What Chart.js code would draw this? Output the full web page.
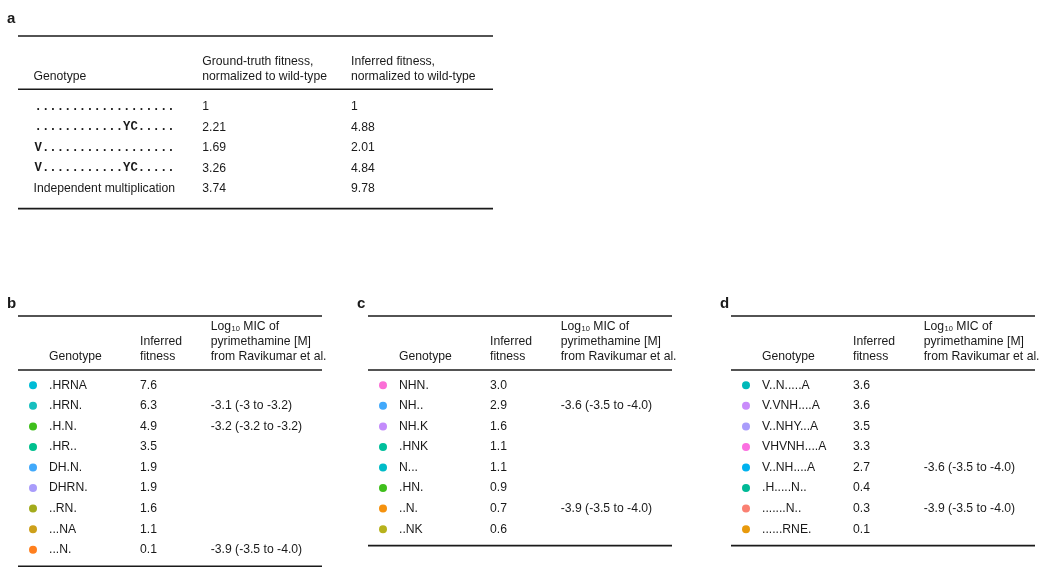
<!DOCTYPE html>
<html><head><meta charset="utf-8">
<script src="https://cdn.jsdelivr.net/npm/chart.js@4.4.1/dist/chart.umd.min.js"></script>
<style>
html,body{margin:0;padding:0;background:#fff;width:1050px;height:579px;overflow:hidden;}
canvas{position:absolute;}
</style></head><body>
<canvas id="pa" width="500" height="220" style="left:0;top:0"></canvas>
<canvas id="pb" width="340" height="299" style="left:0;top:280px"></canvas>
<canvas id="pc" width="340" height="299" style="left:350px;top:280px"></canvas>
<canvas id="pd" width="340" height="299" style="left:713px;top:280px"></canvas>
<script>
// ---------- data ----------
const aGenotypes = ['...................', '............YC.....', 'V..................', 'V...........YC.....', 'Independent multiplication'];
const aGroundTruth = [1, 2.21, 1.69, 3.26, 3.74];
const aInferred = [1, 4.88, 2.01, 4.84, 9.78];

const bGenotypes = ['.HRNA', '.HRN.', '.H.N.', '.HR..', 'DH.N.', 'DHRN.', '..RN.', '...NA', '...N.'];
const bFitness = [7.6, 6.3, 4.9, 3.5, 1.9, 1.9, 1.6, 1.1, 0.1];
const bMIC = ['', '-3.1 (-3 to -3.2)', '-3.2 (-3.2 to -3.2)', '', '', '', '', '', '-3.9 (-3.5 to -4.0)'];

const cGenotypes = ['NHN.', 'NH..', 'NH.K', '.HNK', 'N...', '.HN.', '..N.', '..NK'];
const cFitness = [3.0, 2.9, 1.6, 1.1, 1.1, 0.9, 0.7, 0.6];
const cMIC = ['', '-3.6 (-3.5 to -4.0)', '', '', '', '', '-3.9 (-3.5 to -4.0)', ''];

const dGenotypes = ['V..N.....A', 'V.VNH....A', 'V..NHY...A', 'VHVNH....A', 'V..NH....A', '.H.....N..', '.......N..', '......RNE.'];
const dFitness = [3.6, 3.6, 3.5, 3.3, 2.7, 0.4, 0.3, 0.1];
const dMIC = ['', '', '', '', '-3.6 (-3.5 to -4.0)', '', '-3.9 (-3.5 to -4.0)', ''];

// ---------- styles ----------
const bColors = ['#00bcd6', '#17bfbf', '#3fbf1c', '#00c08e', '#41a9fb', '#a99cfb', '#a3ab1c', '#cda01a', '#ff7f1e'];
const cColors = ['#fb6fd6', '#41a9fb', '#c38bfb', '#00bf9c', '#00bcc8', '#3fbf1c', '#f5920e', '#b7b21c'];
const dColors = ['#00b9b9', '#c98bfb', '#a99cfb', '#fb6fe0', '#00b2ee', '#00b996', '#fa8072', '#e89a0c'];

const FAM = "'Liberation Sans', Arial, sans-serif";
const FONT = '12.2px ' + FAM;
const MONO = "bold 12.3px 'Liberation Mono', 'Courier New', monospace";
const INK = '#1a1a1a';

function hline(ctx, x1, x2, y, w) {
  ctx.save(); ctx.strokeStyle = INK; ctx.lineWidth = w;
  ctx.beginPath(); ctx.moveTo(x1, y); ctx.lineTo(x2, y); ctx.stroke(); ctx.restore();
}
function drawLog10(ctx, x, y) {
  ctx.font = FONT; ctx.fillText('Log', x, y);
  const w = ctx.measureText('Log').width;
  ctx.font = '7.5px ' + FAM; ctx.fillText('10', x + w + 0.5, y + 2);
  const w2 = ctx.measureText('10').width;
  ctx.font = FONT; ctx.fillText(' MIC of', x + w + 0.5 + w2, y);
}

function baseOptions(padding, yMax) {
  return {
    responsive: false, animation: false, devicePixelRatio: 1,
    layout: { padding: padding },
    plugins: { legend: { display: false }, tooltip: { enabled: false } },
    events: [],
    scales: {
      x: { type: 'linear', display: false, min: 0, max: 1 },
      y: { type: 'linear', display: false, min: -0.5, max: yMax, reverse: true }
    }
  };
}

// ---------- panel a ----------
new Chart(document.getElementById('pa'), {
  type: 'scatter',
  data: { datasets: [{ data: [] }] },
  options: baseOptions({ left: 18, right: 7, top: 96.4, bottom: 21.1 }, aGenotypes.length - 0.5),
  plugins: [{
    id: 'tableA',
    afterDraw(chart) {
      const ctx = chart.ctx, ca = chart.chartArea, ys = chart.scales.y;
      const y0 = ys.getPixelForValue(0), yN = ys.getPixelForValue(aGenotypes.length - 1);
      const L = ca.left, R = ca.right;
      const gx = L + 15.5, c2 = L + 184.3, c3 = L + 333;
      ctx.save();
      ctx.fillStyle = INK; ctx.textBaseline = 'middle'; ctx.textAlign = 'left';
      ctx.font = 'bold 15px ' + FAM; ctx.fillText('a', 7, 19);
      hline(ctx, L, R, y0 - 70.7, 1.6);
      hline(ctx, L, R, y0 - 17.4, 1.6);
      hline(ctx, L, R, yN + 20, 1.6);
      ctx.font = FONT;
      ctx.fillText('Genotype', gx, y0 - 30);
      ctx.fillText('Ground-truth fitness,', c2, y0 - 44.7);
      ctx.fillText('normalized to wild-type', c2, y0 - 30);
      ctx.fillText('Inferred fitness,', c3, y0 - 44.7);
      ctx.fillText('normalized to wild-type', c3, y0 - 30);
      aGenotypes.forEach((g, i) => {
        const y = ys.getPixelForValue(i);
        if (/^[.A-Z]+$/.test(g) && g.length < 22) { ctx.font = MONO; ctx.fillText(g, gx + 1, y); }
        else { ctx.font = FONT; ctx.fillText(g, gx, y); }
        ctx.font = FONT;
        ctx.fillText(String(aGroundTruth[i]), c2, y);
        ctx.fillText(String(aInferred[i]), c3, y);
      });
      ctx.restore();
    }
  }]
});

// ---------- panels b, c, d ----------
function makePanel(id, letter, genotypes, fitness, mic, colors) {
  new Chart(document.getElementById(id), {
    type: 'scatter',
    data: {
      datasets: [{
        data: genotypes.map((g, i) => ({ x: 0, y: i })),
        pointBackgroundColor: colors,
        pointBorderWidth: 0,
        pointRadius: 4,
        clip: false
      }]
    },
    options: baseOptions({ left: 33, right: 18, top: 95, bottom: 19 }, 8.5),
    plugins: [{
      id: 'table' + letter,
      afterDraw(chart) {
        const ctx = chart.ctx, ca = chart.chartArea, ys = chart.scales.y;
        const y0 = ys.getPixelForValue(0), yN = ys.getPixelForValue(genotypes.length - 1);
        const L = ca.left - 15, R = ca.right;
        const gx = ca.left + 16, fx = ca.left + 107, mx = ca.left + 177.7;
        ctx.save();
        ctx.fillStyle = INK; ctx.textBaseline = 'middle'; ctx.textAlign = 'left';
        ctx.font = 'bold 15px ' + FAM; ctx.fillText(letter, 7, 23.5);
        hline(ctx, L, R, y0 - 69.3, 1.6);
        hline(ctx, L, R, y0 - 15.3, 1.6);
        hline(ctx, L, R, yN + 16.5, 1.6);
        ctx.font = FONT;
        ctx.fillText('Genotype', gx, y0 - 28.3);
        ctx.fillText('Inferred', fx, y0 - 43.3);
        ctx.fillText('fitness', fx, y0 - 28.3);
        drawLog10(ctx, mx, y0 - 58.3);
        ctx.font = FONT;
        ctx.fillText('pyrimethamine [M]', mx, y0 - 43.3);
        ctx.fillText('from Ravikumar et al.', mx, y0 - 28.3);
        genotypes.forEach((g, i) => {
          const y = ys.getPixelForValue(i);
          ctx.fillText(g, gx, y);
          ctx.fillText(fitness[i].toFixed(1), fx, y);
          if (mic[i]) ctx.fillText(mic[i], mx, y);
        });
        ctx.restore();
      }
    }]
  });
}
makePanel('pb', 'b', bGenotypes, bFitness, bMIC, bColors);
makePanel('pc', 'c', cGenotypes, cFitness, cMIC, cColors);
makePanel('pd', 'd', dGenotypes, dFitness, dMIC, dColors);
</script>
</body></html>
